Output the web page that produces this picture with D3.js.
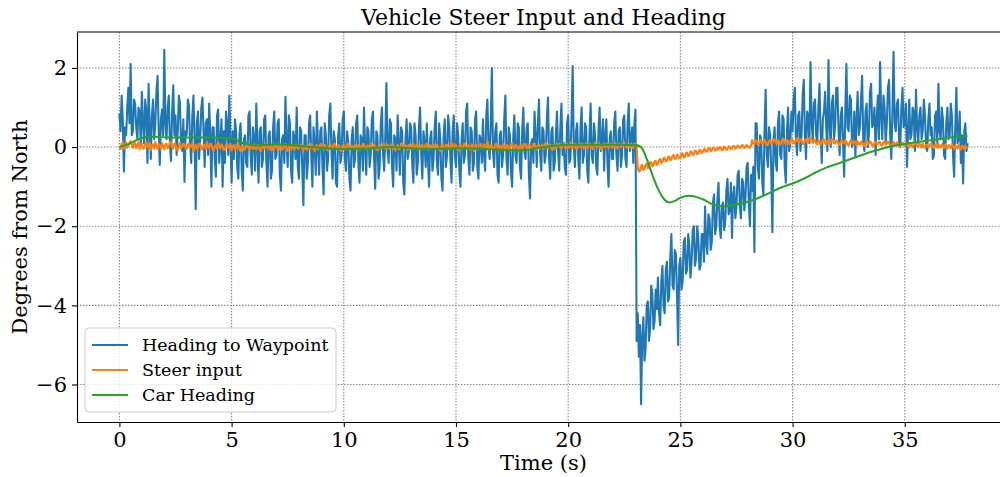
<!DOCTYPE html>
<html>
<head>
<meta charset="utf-8">
<script src="https://cdn.jsdelivr.net/npm/d3@7"></script>
<style>
    body { margin: 0; background: #fff; }
    #chart-area text { font-family: "DejaVu Serif", serif; }
</style>
</head>
<body>
<div id="chart-area"></div>
<script>
// sample step of the logged signals (seconds)
let sampleStep = 0.05;

// heading to waypoint, 20 samples per second from t = 0
let waypointHeading = [
    0.85, 0.4, 1.3, 0.7, -0.62, 0.5, 0.3, 1.0, 1.5, 0.6, 2.1, 0.3, 0.4, 1.2, 1.1, 0.5, 0.2, 1.0, 0.9, 0.1,
    1.4, 0.6, 0.1, 1.2, 0.9, -0.4, 1.6, 0.5, -0.3, 0.8, 1.2, 0.2, 0.6, 1.4, 1.8, 0.4, -0.45, 0.7, 0.95, 0.3,
    2.46, 0.6, 0.2, 1.0, 1.3, 0.1, -0.35, 0.9, 1.56, 0.3, 0.8, -0.2, 0.4, 1.3, 1.1, 0.0, -0.1, 0.7, -0.88, 0.4,
    0.3, 1.2, 1.05, 0.1, -0.4, 0.8, 1.3, 0.2, -1.57, 0.6, 0.9, -0.3, 0.2, 1.0, 1.25, 0.4, -0.5, 0.6, 0.7, -0.2,
    1.1, 0.3, -1.0, 0.5, 0.5, -0.3, -0.75, 0.8, 0.95, -0.4, 0.1, 0.7, -1.0, 0.4, -0.4, 0.9, 0.6, -0.2, 1.3, 0.1,
    -0.9, 0.4, -0.3, 0.7, 0.4, -0.5, -0.8, 0.3, 0.6, -0.6, -1.1, 0.2, 0.3, -0.4, -0.5, 0.8, 0.9, -0.2, -0.7, 0.5,
    0.2, -0.6, 1.1, 0.0, -0.9, 0.4, 0.5, -0.5, -0.3, 0.7, 0.8, -0.4, -1.0, 0.3, 0.4, -0.8, -0.6, 0.5, 0.9, -0.3,
    -0.2, 0.6, 0.7, -0.7, -1.1, 0.2, 0.3, -0.4, 1.27, 0.1, -0.5, 0.8, 0.6, -0.6, -0.9, 0.4, 0.2, -0.3, 1.0, -0.5,
    -0.8, 0.5, 0.4, -0.6, -1.47, 0.3, 0.3, -0.8, -0.4, 0.6, 0.8, -0.2, -1.0, 0.5, 0.1, -0.7, 0.9, 0.0, -0.7, 0.4,
    0.5, -0.5, -1.2, 0.6, 0.3, -0.6, -0.3, 0.8, 1.1, -0.1, -0.8, 0.4, 0.2, -0.9, -1.0, 0.3, 0.6, -0.4, -0.2, 0.7,
    0.9, -0.3, -0.6, 0.4, 0.1, -0.8, -1.1, 0.2, 0.5, -0.5, -0.3, 0.6, 0.8, -0.4, -0.9, 0.3, 0.2, -0.6, 1.0, 0.0,
    -0.7, 0.5, 0.4, -0.5, -0.2, 0.7, 0.9, -0.3, -1.05, 0.4, 0.3, -0.8, -0.5, 0.6, 1.0, -0.2, -0.6, 0.3, 1.62, -0.1,
    -0.4, 0.7, 0.6, -0.5, -1.0, 0.3, 0.2, -0.6, 0.8, 0.1, -0.7, 0.5, 0.4, -0.9, -1.2, 0.2, 0.7, -0.3, -0.1, 0.6,
    0.5, -0.4, -0.9, 0.6, 0.3, -0.7, -0.4, 0.5, 1.0, -0.2, -0.8, 0.4, 0.1, -0.5, 0.6, -0.3, -1.0, 0.2, 0.4, -0.6,
    -0.3, 0.5, 0.9, -0.4, -0.7, 0.6, 0.2, -0.8, -1.1, 0.3, 0.7, -0.5, -0.2, 0.8, 0.5, -0.3, -0.9, 0.4, 0.8, -0.2,
    -0.5, 0.6, 0.3, -0.6, -1.0, 0.2, 0.6, -0.4, -0.2, 0.9, 1.1, -0.3, -0.7, 0.5, 0.4, -0.6, -0.4, 0.7, 0.9, -0.5,
    -0.8, 0.3, 0.2, -0.4, 0.7, -0.2, -0.6, 0.8, 1.2, 0.0, -0.3, 0.6, 2.0, -0.1, -0.5, 0.4, 0.6, -0.7, -0.9, 0.3,
    0.4, -0.5, -0.2, 0.7, 1.3, -0.3, -0.7, 0.5, 0.3, -0.6, -1.0, 0.2, 0.8, -0.2, -0.4, 0.6, 0.5, -0.5, -0.8, 0.4,
    1.0, -0.1, -0.3, 0.5, 0.6, -0.7, -1.3, 0.1, 0.2, -0.4, 0.9, 0.3, -0.5, 0.6, 1.2, -0.2, -0.6, 0.5, 0.4, -0.4,
    -0.2, 0.7, 1.25, -0.3, -0.8, 0.4, 0.5, -0.6, -0.4, 0.3, 0.9, -0.1, -0.6, 0.5, 1.1, -0.2, 0.1, -0.5, -0.7, 0.6,
    0.8, -0.4, -0.3, 0.7, 2.05, 0.0, -0.5, 0.4, 0.6, -0.3, -0.8, 0.5, 1.0, -0.4, -0.2, 0.6, 0.5, -0.6, -0.9, 0.3,
    1.1, -0.2, -0.4, 0.6, 0.3, -0.5, -0.7, 0.4, 1.0, -0.1, 0.1, 0.7, -0.6, 0.3, 0.7, -0.4, -1.0, 0.2, 0.4, -0.3,
    -0.3, 0.6, 0.9, -0.2, -0.6, 0.4, 0.5, -0.5, -0.2, 0.7, 0.8, -0.3, -0.5, 0.6, 1.1, -0.1, 0.2, 0.5, -0.4, 0.6,
    0.95, -4.9, -4.2, -5.3, -4.5, -6.5, -4.8, -4.3, -5.4, -5.1, -4.0, -3.9, -4.9, -4.6, -3.5, -3.7, -4.6, -4.4, -3.6, -4.1,
    -3.3, -4.2, -4.5, -3.4, -3.0, -4.0, -4.2, -3.1, -2.9, -3.9, -3.8, -2.8, -2.2, -3.5, -3.6, -2.6, -2.7, -3.7, -5.0, -3.0,
    -2.8, -3.6, -3.4, -2.4, -2.3, -3.2, -3.1, -2.2, -2.5, -3.3, -2.9, -2.1, -2.0, -3.0, -2.8, -2.0, -2.3, -3.1, -3.0, -2.2,
    -2.2, -2.9, -1.5, -2.4, -2.7, -1.7, -1.8, -2.6, -2.4, -1.4, -1.2, -2.2, -2.0, -1.3, -0.9, -2.0, -2.3, -1.5, -1.4, -2.1,
    -1.9, -1.1, -0.8, -1.7, -1.6, -0.9, -2.3, -1.2, -1.0, -1.8, -1.5, -0.7, -0.6, -1.5, -1.8, -0.8, -0.9, -1.6, -1.3, -0.5,
    -0.4, -1.4, -2.0, -0.7, -1.1, -0.5, -2.65, 0.6, 0.6, -0.5, -0.8, 0.3, 0.2, -0.9, -1.2, 0.4, 1.45, -0.2, -0.5, 0.5,
    0.3, -0.6, -2.15, 0.2, 0.5, -0.4, -0.6, 0.6, 0.9, -0.2, -0.3, 0.8, 0.7, -0.5, -0.9, 0.4, 1.0, -0.1, 0.1, 0.9,
    0.4, 1.2, 1.5, 0.2, -0.2, 0.8, 0.9, -0.1, 0.3, 1.3, 1.7, 0.3, -0.3, 0.9, 0.8, 0.1, 2.15, 0.6, 0.2, 1.1,
    1.2, 0.3, 0.1, 1.0, 1.6, 0.4, -0.4, 0.7, 0.9, 1.4, 0.5, -0.1, 2.2, 0.6, 0.0, 1.1, 1.3, 0.2, 0.6, 1.5,
    1.5, 0.4, -0.2, 0.8, 1.0, 0.1, -0.75, 0.9, 2.1, 0.5, 0.4, 1.3, 1.2, 0.0, 0.1, 0.9, -0.25, 0.7, 1.4, 0.3,
    0.5, 1.2, 1.8, 0.2, -0.1, 0.9, 1.1, 0.0, 0.3, 1.4, 1.6, 0.5, 0.6, 1.0, -0.2, 0.7, 1.3, 0.2, 2.15, 0.8,
    0.2, 1.3, 1.0, 0.1, 0.6, 1.5, 1.7, 0.3, -0.3, 0.9, 2.41, 0.6, 0.4, 1.1, 1.2, 0.1, 0.0, 1.0, 1.5, 0.5,
    0.6, 1.1, -0.5, 0.4, 1.2, 0.2, 0.3, 1.0, 0.9, -0.1, 1.45, 0.5, 0.1, 0.8, 1.0, 0.2, 0.4, 1.2, 0.8, 0.0,
    -0.1, 0.7, 1.1, 0.3, 0.5, -0.3, -0.2, 0.8, 0.9, 0.1, 1.6, 0.4, 0.2, 1.0, 0.7, -0.2, -0.3, 0.6, 1.0, 0.2,
    0.3, 1.1, 0.8, -0.2, -0.75, 0.5, 1.5, 0.1, 0.2, 0.9, -0.4, 0.3, -0.92, 0.4, 0.6, -0.1, 0.1
];

// steer input, same time base
let steerInput = [
    0.02, -0.05, 0.08, 0.12, -0.04, 0.06, 0.12, -0.02, 0.03, 0.1, 0.15, 0.04, -0.02, 0.09, 0.1, -0.03, 0.05, 0.13, -0.06, 0.07,
    0.09, -0.04, -0.03, 0.08, 0.12, -0.01, 0.01, 0.1, -0.08, 0.05, 0.07, -0.04, 0.13, 0.02, -0.05, 0.08, 0.04, -0.06, 0.1, 0.03,
    -0.06, 0.07, 0.08, -0.03, 0.02, 0.11, 0.14, -0.02, -0.04, 0.09, 0.06, -0.05, -0.09, 0.04, 0.11, -0.03, 0.0, 0.08, 0.07, -0.04,
    -0.05, 0.06, 0.1, -0.02, 0.03, 0.09, -0.12, 0.01, 0.06, -0.06, -0.02, 0.08, 0.09, -0.04, -0.07, 0.05, 0.04, -0.05, 0.12, 0.0,
    -0.03, 0.08, 0.07, -0.06, -0.1, 0.03, 0.05, -0.05, 0.11, 0.02, -0.04, 0.07, 0.02, -0.07, -0.08, 0.06, 0.09, -0.02, 0.0, 0.08,
    -0.09, 0.03, 0.05, -0.06, -0.02, 0.07, 0.08, -0.04, -0.11, 0.02, 0.03, -0.07, -0.05, 0.06, 0.06, -0.03, -0.08, 0.04, 0.02, -0.05,
    0.07, -0.02, -0.06, 0.05, 0.04, -0.07, -0.1, 0.03, 0.05, -0.04, -0.03, 0.08, 0.09, -0.02, -0.07, 0.04, 0.01, -0.08, -0.04, 0.06,
    0.06, -0.05, -0.08, 0.04, 0.03, -0.06, -0.05, 0.07, 0.08, -0.03, -0.1, 0.01, 0.02, -0.06, 0.05, -0.02, -0.07, 0.06, 0.04, -0.05,
    -0.03, 0.05, 0.07, -0.04, -0.09, 0.03, 0.02, -0.07, 0.06, -0.01, -0.06, 0.08, 0.04, -0.05, -0.11, 0.02, 0.05, -0.06, -0.02, 0.07,
    0.08, -0.03, -0.05, 0.06, 0.01, -0.07, -0.08, 0.04, 0.06, -0.05, -0.03, 0.07, 0.09, -0.02, -0.06, 0.05, 0.03, -0.08, -0.1, 0.04,
    0.05, -0.06, -0.04, 0.07, 0.08, -0.02, -0.07, 0.03, 0.02, -0.05, 0.06, -0.03, -0.09, 0.05, 0.04, -0.06, -0.02, 0.08, 0.07, -0.04,
    -0.06, 0.04, 0.03, -0.05, 0.09, -0.02, -0.05, 0.06, 0.01, -0.07, -0.08, 0.03, 0.06, -0.04, -0.03, 0.07, 0.08, -0.02, -0.07, 0.05,
    0.04, -0.05, -0.02, 0.06, 0.07, -0.03, -0.09, 0.02, 0.05, -0.06, -0.04, 0.08, 0.1, -0.01, -0.06, 0.04, 0.02, -0.07, 0.06, -0.02,
    -0.05, 0.06, 0.08, -0.04, -0.03, 0.07, 0.04, -0.06, -0.08, 0.03, 0.06, -0.05, -0.02, 0.07, 0.09, -0.03, -0.06, 0.05, 0.03, -0.04,
    0.07, -0.02, -0.05, 0.06, 0.02, -0.07, -0.09, 0.04, 0.08, -0.01, -0.03, 0.06, 0.05, -0.05, -0.07, 0.03, 0.12, -0.02, -0.02, 0.07,
    0.04, -0.05, -0.08, 0.03, 0.06, -0.04, -0.03, 0.08, 0.09, -0.02, -0.06, 0.05, 0.02, -0.07, 0.07, -0.01, -0.1, 0.04, 0.05, -0.06,
    -0.02, 0.06, 0.08, -0.04, -0.05, 0.07, 0.03, -0.03, 0.14, 0.02, -0.07, 0.05, 0.04, -0.06, -0.04, 0.06, 0.09, -0.02, -0.06, 0.04,
    0.02, -0.05, 0.07, -0.01, -0.08, 0.04, 0.05, -0.06, -0.03, 0.07, 0.1, -0.02, -0.05, 0.06, 0.03, -0.04, -0.09, 0.02, 0.06, -0.03,
    0.0, 0.07, 0.08, -0.03, -0.06, 0.05, 0.04, -0.05, -0.02, 0.08, 0.09, -0.01, -0.07, 0.04, 0.05, -0.04, 0.02, 0.07, -0.05, 0.03,
    0.1, -0.02, -0.03, 0.07, 0.06, -0.04, -0.08, 0.05, 0.04, -0.03, 0.01, 0.08, 0.09, -0.02, -0.04, 0.06, 0.07, -0.01, -0.02, 0.08,
    0.05, -0.02, 0.12, 0.03, -0.03, 0.07, 0.08, -0.04, -0.06, 0.06, 0.1, -0.01, 0.02, 0.08, -0.04, 0.05, 0.09, -0.03, -0.01, 0.07,
    0.07, -0.03, -0.05, 0.08, 0.11, 0.01, 0.0, 0.09, 0.06, -0.04, -0.07, 0.05, 0.09, -0.01, 0.03, 0.1, -0.03, 0.06, 0.08, -0.02,
    0.02, 0.09, 0.1, -0.02, -0.04, 0.08, 0.07, 0.0, 0.01, 0.1, 0.12, 0.03, -0.02, 0.07, 0.06, -0.01, 0.09, 0.02, -0.03, 0.08,
    0.08, 0.02, -0.52, -0.62, -0.6, -0.48, -0.45, -0.58, -0.55, -0.44, -0.42, -0.53, -0.5, -0.39, -0.38, -0.49, -0.46, -0.36, -0.35, -0.45,
    -0.42, -0.33, -0.3, -0.4, -0.38, -0.28, -0.27, -0.36, -0.35, -0.25, -0.24, -0.33, -0.32, -0.22, -0.2, -0.3, -0.29, -0.19, -0.22, -0.28,
    -0.28, -0.18, -0.16, -0.26, -0.25, -0.15, -0.14, -0.23, -0.21, -0.11, -0.12, -0.2, -0.19, -0.09, -0.1, -0.18, -0.17, -0.07, -0.08, -0.15,
    -0.13, -0.05, -0.05, -0.12, -0.11, -0.03, -0.03, -0.1, -0.09, -0.01, -0.02, -0.09, -0.08, -0.02, -0.06, 0.0, -0.01, -0.08, -0.07, 0.01,
    -0.02, -0.07, -0.06, 0.02, 0.01, -0.05, -0.04, 0.03, 0.02, -0.04, -0.03, 0.04, 0.03, -0.02, -0.01, 0.05, 0.04, -0.02, 0.0, 0.05,
    0.03, -0.01, -0.02, 0.04, 0.18, 0.09, 0.08, 0.17, 0.16, 0.06, 0.05, 0.15, 0.19, 0.1, 0.09, 0.18, 0.14, 0.05, 0.06, 0.16,
    0.17, 0.08, 0.1, 0.19, 0.2, 0.11, 0.07, 0.16, 0.15, 0.06, 0.11, 0.2, 0.21, 0.12, 0.08, 0.17, 0.16, 0.07, 0.12, 0.2,
    0.19, 0.1, 0.09, 0.18, 0.22, 0.13, 0.12, 0.2, 0.17, 0.08, 0.08, 0.17, 0.2, 0.11, 0.13, 0.22, 0.24, 0.14, 0.1, 0.19,
    0.18, 0.09, 0.07, 0.16, 0.15, 0.06, 0.11, 0.19, 0.2, 0.1, 0.06, 0.15, 0.16, 0.07, 0.12, 0.2, 0.19, 0.1, 0.09, 0.17,
    0.14, 0.06, 0.05, 0.13, 0.17, 0.09, 0.1, 0.18, 0.13, 0.05, 0.04, 0.12, 0.18, 0.1, 0.08, 0.15, 0.12, 0.04, 0.15, 0.07,
    0.06, 0.14, 0.13, 0.04, 0.03, 0.12, 0.16, 0.07, 0.09, 0.15, 0.11, 0.03, 0.02, 0.1, 0.14, 0.06, 0.07, 0.13, 0.12, 0.04,
    0.04, 0.12, 0.15, 0.06, 0.08, 0.14, 0.1, 0.02, 0.01, 0.09, 0.13, 0.05, 0.06, 0.12, 0.09, 0.01, 0.03, 0.1, 0.12, 0.04,
    0.05, 0.11, 0.1, 0.02, -0.01, 0.07, 0.08, -0.01, 0.04, 0.1, 0.12, 0.03, 0.0, 0.08, 0.07, -0.02, 0.09, 0.02, -0.02, 0.06,
    0.06, -0.01, 0.02, 0.08, 0.1, 0.01, -0.03, 0.06, 0.05, -0.02, 0.08, 0.01, -0.01, 0.07, 0.04, -0.03, 0.07, 0.0, -0.04, 0.05,
    0.03, -0.03, 0.07, 0.01, -0.05, 0.04, 0.02, -0.04, 0.06, 0.0, -0.06, 0.03, 0.01, -0.05, 0.04, -0.02, 0.0
];

// car heading is smooth, logged at irregular times
let carHeadingTime = [
    0, 0.5, 1.0, 1.5, 2.0, 3.0, 4.0, 5.0, 5.5, 6.0, 7.0, 8.0, 9.0, 10.0, 11.0,
    12.0, 13.0, 14.0, 15.0, 16.0, 17.0, 18.0, 19.0, 20.0, 21.0, 22.0, 23.0,
    23.25, 23.5, 23.75, 24.0, 24.25, 24.5, 24.75, 25.0, 25.4, 26.0, 26.5, 27.0,
    27.5, 28.0, 28.5, 29.0, 29.5, 30.0, 30.5, 31.0, 31.5, 32.0, 32.5, 33.0,
    33.5, 34.0, 34.5, 35.0, 35.5, 36.0, 36.5, 37.0, 37.5, 37.8
];
let carHeading = [
    0.0, 0.1, 0.23, 0.26, 0.25, 0.24, 0.24, 0.22, 0.1, 0.04, 0.07, 0.03, -0.02, -0.05, -0.04,
    0.0, -0.03, -0.05, -0.03, -0.04, -0.07, -0.08, 0.01, 0.06, 0.06, 0.06, 0.05,
    0.0, -0.3, -0.7, -1.05, -1.3, -1.4, -1.36, -1.28, -1.23, -1.32, -1.46, -1.5,
    -1.45, -1.38, -1.28, -1.15, -1.02, -0.92, -0.8, -0.65, -0.52, -0.42, -0.32, -0.22,
    -0.12, -0.04, 0.03, 0.08, 0.12, 0.16, 0.2, 0.24, 0.27, 0.28
];

let xTicks = [0, 5, 10, 15, 20, 25, 30, 35];
let yTicks = [-6, -4, -2, 0, 2];
let seriesNames = ["Heading to Waypoint", "Steer input", "Car Heading"];
let seriesColors = ["#1f77b4", "#ff7f0e", "#2ca02c"];

class SteerVis {

    constructor(_parentElement) {
        this.parentElement = _parentElement;
        this.initVis();
    }

    initVis() {
        let vis = this;

        // right edge of the axes falls just outside the 1000px figure
        vis.margin = { top: 32, right: -10, bottom: 55, left: 77 };
        vis.width = 1000 - vis.margin.left - vis.margin.right;
        vis.height = 477 - vis.margin.top - vis.margin.bottom;

        vis.svgRoot = d3.select("#" + vis.parentElement).append("svg")
            .attr("width", 1000)
            .attr("height", 477);
        vis.svg = vis.svgRoot.append("g")
            .attr("transform", "translate(" + vis.margin.left + "," + vis.margin.top + ")");

        vis.x = d3.scaleLinear().range([0, vis.width]);
        vis.y = d3.scaleLinear().range([vis.height, 0]);

        vis.wrangleData();
    }

    wrangleData() {
        let vis = this;

        vis.series = [
            waypointHeading.map((v, i) => ({ t: i * sampleStep, v: v })),
            steerInput.map((v, i) => ({ t: i * sampleStep, v: v })),
            carHeading.map((v, i) => ({ t: carHeadingTime[i], v: v }))
        ];

        // matplotlib style 5% padding around the data
        let all = vis.series.flat();
        let tExt = d3.extent(all, d => d.t);
        let vExt = d3.extent(all, d => d.v);
        let tPad = (tExt[1] - tExt[0]) * 0.05;
        let vPad = (vExt[1] - vExt[0]) * 0.05;
        vis.x.domain([tExt[0] - tPad, tExt[1] + tPad]);
        vis.y.domain([vExt[0] - vPad, vExt[1] + vPad]);

        vis.updateVis();
    }

    updateVis() {
        let vis = this;

        // grid
        vis.svg.append("g").selectAll("line")
            .data(xTicks).enter().append("line")
            .attr("x1", d => vis.x(d)).attr("x2", d => vis.x(d))
            .attr("y1", 0).attr("y2", vis.height)
            .attr("stroke", "#8c8c8c").attr("stroke-width", 1.1)
            .attr("stroke-dasharray", "1.5,1.5");
        vis.svg.append("g").selectAll("line")
            .data(yTicks).enter().append("line")
            .attr("x1", 0).attr("x2", vis.width)
            .attr("y1", d => vis.y(d)).attr("y2", d => vis.y(d))
            .attr("stroke", "#8c8c8c").attr("stroke-width", 1.1)
            .attr("stroke-dasharray", "1.5,1.5");

        let line = d3.line().x(d => vis.x(d.t)).y(d => vis.y(d.v));
        let smooth = d3.line().x(d => vis.x(d.t)).y(d => vis.y(d.v)).curve(d3.curveMonotoneX);

        vis.series.forEach(function(s, i) {
            vis.svg.append("path")
                .datum(s)
                .attr("d", i === 2 ? smooth : line)
                .attr("fill", "none")
                .attr("stroke", seriesColors[i])
                .attr("stroke-width", 2.08)
                .attr("stroke-linejoin", "round");
        });

        // axes
        let fmt = d => d < 0 ? "\u2212" + Math.abs(d) : "" + d;
        let xAxis = vis.svg.append("g")
            .attr("transform", "translate(0," + vis.height + ")")
            .call(d3.axisBottom(vis.x).tickValues(xTicks).tickFormat(fmt)
                .tickSize(5).tickSizeOuter(0).tickPadding(5));
        let yAxis = vis.svg.append("g")
            .call(d3.axisLeft(vis.y).tickValues(yTicks).tickFormat(fmt)
                .tickSize(5).tickSizeOuter(0).tickPadding(5));
        [xAxis, yAxis].forEach(function(a) {
            a.selectAll("text").style("font-size", "21px").attr("fill", "#000");
            a.selectAll("line").attr("stroke", "#000").attr("stroke-width", 1.1);
            a.select(".domain").attr("stroke", "#000").attr("stroke-width", 1.1);
        });
        vis.svg.append("line")
            .attr("x1", 0).attr("x2", vis.width).attr("y1", 0).attr("y2", 0)
            .attr("stroke", "#000").attr("stroke-width", 1.1);

        // labels
        vis.svgRoot.append("text")
            .attr("x", vis.margin.left + vis.width / 2).attr("y", 25)
            .attr("text-anchor", "middle").style("font-size", "22px")
            .text("Vehicle Steer Input and Heading");
        vis.svgRoot.append("text")
            .attr("x", vis.margin.left + vis.width / 2).attr("y", 470)
            .attr("text-anchor", "middle").style("font-size", "21px")
            .text("Time (s)");
        vis.svgRoot.append("text")
            .attr("transform", "translate(27," + (vis.margin.top + vis.height / 2) + ") rotate(-90)")
            .attr("text-anchor", "middle").style("font-size", "21px")
            .text("Degrees from North");

        // legend
        let legend = vis.svgRoot.append("g").attr("transform", "translate(85,328)");
        legend.append("rect")
            .attr("width", 251).attr("height", 84).attr("rx", 4)
            .attr("fill", "#fff").attr("fill-opacity", 0.8)
            .attr("stroke", "#cccccc");
        seriesNames.forEach(function(name, i) {
            let yy = 17 + i * 25;
            legend.append("line")
                .attr("x1", 7).attr("x2", 43).attr("y1", yy).attr("y2", yy)
                .attr("stroke", seriesColors[i]).attr("stroke-width", 2.08);
            legend.append("text")
                .attr("x", 57).attr("y", yy).attr("dy", "0.35em")
                .style("font-size", "17.5px")
                .text(name);
        });
    }
}

let steerVis = new SteerVis("chart-area");
</script>
</body>
</html>
